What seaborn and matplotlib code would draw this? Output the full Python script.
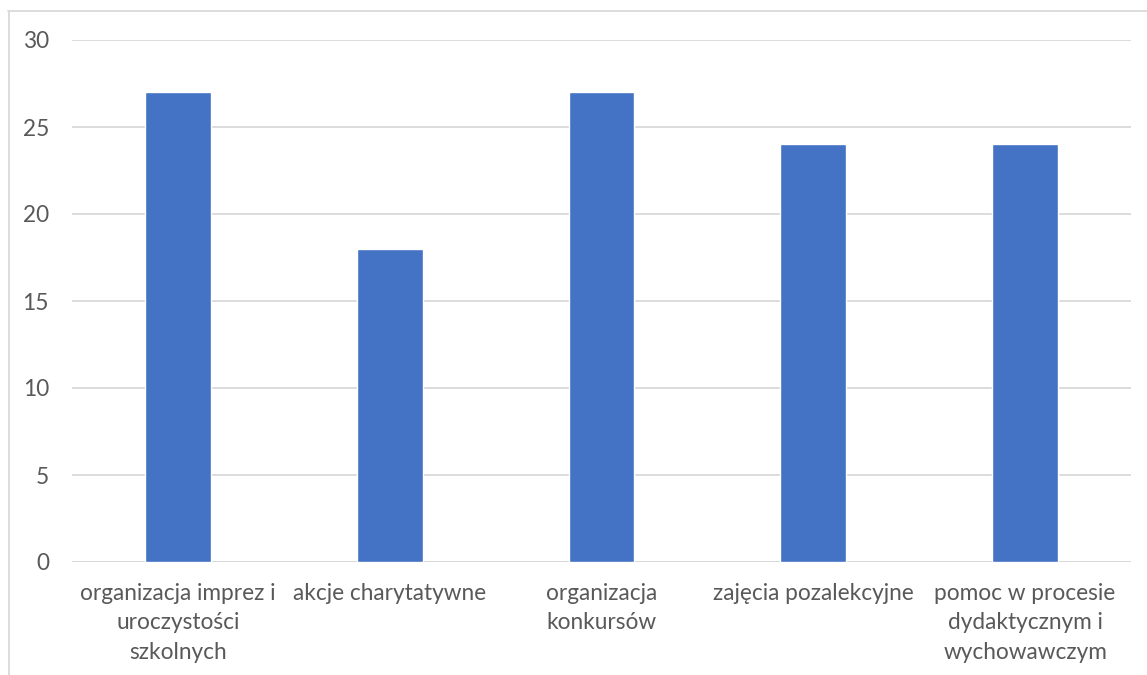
import matplotlib
matplotlib.use("Agg")
import matplotlib.pyplot as plt
import seaborn as sns
import pandas as pd
from matplotlib.lines import Line2D

categories = [
    "organizacja imprez i\nuroczystości\nszkolnych",
    "akcje charytatywne",
    "organizacja\nkonkursów",
    "zajęcia pozalekcyjne",
    "pomoc w procesie\ndydaktycznym i\nwychowawczym",
]
values = [27, 18, 27, 24, 24]
y_ticks = [0, 5, 10, 15, 20, 25, 30]

sns.set_theme(style="white")
plt.rcParams['font.family'] = ['Lato', 'DejaVu Sans']

df = pd.DataFrame({"cat": categories, "val": values})

fig = plt.figure(figsize=(11.47, 6.75), dpi=100)
ax = fig.add_axes([72/1147, 1-562/675, (1131-72)/1147, (562-40)/675])

sns.barplot(data=df, x="cat", y="val", color="#4472C4", saturation=1,
            width=0.31, ax=ax, zorder=3)

ax.set_ylim(0, 30)
ax.set_yticks(y_ticks)
ax.set_xlim(-0.5, len(categories) - 0.5)
ax.set_xlabel("")
ax.set_ylabel("")
for s in ax.spines.values():
    s.set_visible(False)
ax.yaxis.grid(True, color="#D9D9D9", linewidth=1.3, zorder=0)
ax.set_axisbelow(True)
ax.axhline(0, color="#D9D9D9", linewidth=1.3, zorder=2)
ax.tick_params(axis="y", length=0, pad=16.5, labelsize=16.3, labelcolor="#595959")
ax.tick_params(axis="x", length=0, pad=15, labelsize=16.3, labelcolor="#595959")
for lbl in ax.get_xticklabels():
    lbl.set_linespacing(1.5)
    lbl.set_multialignment("center")

# chart frame (top and left borders visible)
fig.add_artist(Line2D([8/1147, 1.0], [1-10.5/675, 1-10.5/675],
                      transform=fig.transFigure, color="#D9D9D9", linewidth=1.3))
fig.add_artist(Line2D([8.5/1147, 8.5/1147], [0.0, 1-10.5/675],
                      transform=fig.transFigure, color="#D9D9D9", linewidth=1.3))

fig.savefig("out.png", dpi=100, facecolor="white")
